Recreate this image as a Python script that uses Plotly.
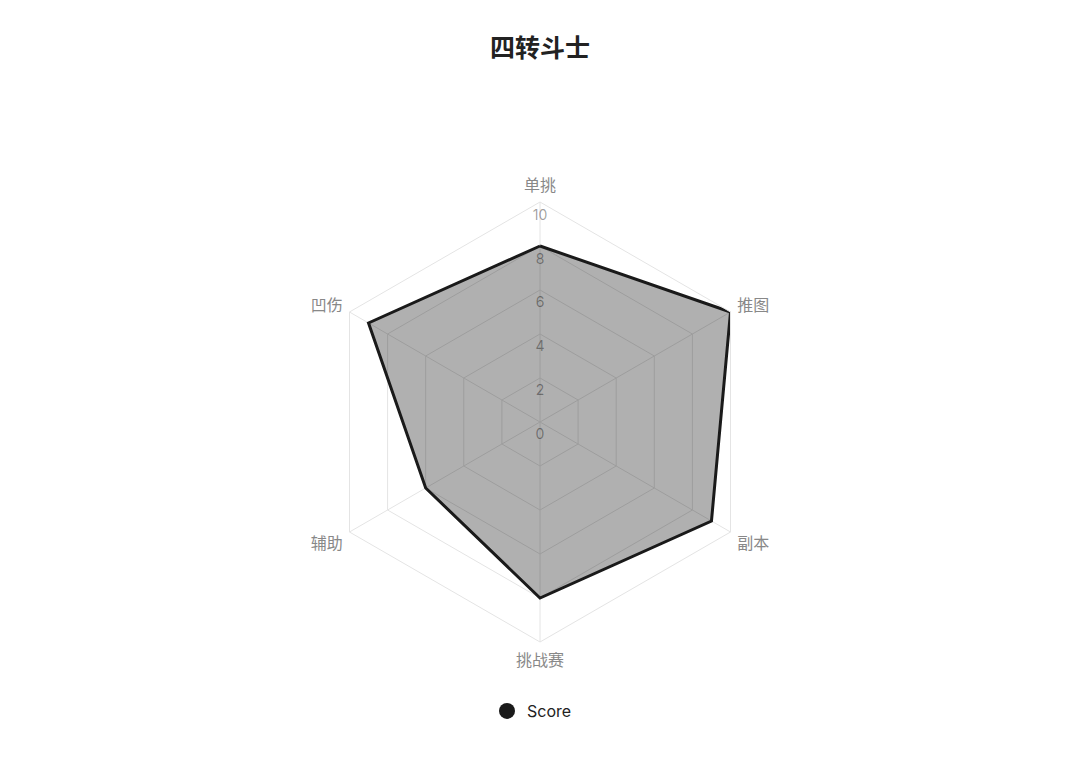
import plotly.graph_objects as go

title = "四转斗士"
categories = ["单挑", "推图", "副本", "挑战赛", "辅助", "凹伤"]
scores = [8, 10, 9, 8, 6, 9]
series_name = "Score"
tick_values = [0, 2, 4, 6, 8, 10]
tick_labels = ["0", "2", "4", "6", "8", "10"]

FONT = "Inter, 'Noto Sans CJK SC', sans-serif"
W, H = 1080, 779
OFF = 8  # page body margin
cx, cy, R = 540 - OFF, 422 - OFF, 220
LABEL_DROP = 14


def dom(cx_, cy_):
    return dict(x=[(cx_ - R) / W, (cx_ + R) / W],
                y=[(H - cy_ - R) / H, (H - cy_ + R) / H])


fig = go.Figure()

theta_closed = categories + [categories[0]]
r_closed = scores + [scores[0]]

fig.add_trace(go.Scatterpolar(
    r=r_closed, theta=theta_closed, mode="lines", fill="toself",
    fillcolor="rgba(0,0,0,0.31)",
    line=dict(color="#1a1a1a", width=3),
    showlegend=False, hoverinfo="skip", subplot="polar",
))

# radial tick labels along the first spoke (in an overlay polar, nudged down)
fig.add_trace(go.Scatterpolar(
    r=tick_values, theta=[categories[0]] * len(tick_values),
    mode="text", text=tick_labels, textposition="middle center",
    textfont=dict(family=FONT, size=14, color="rgba(0,0,0,0.38)"),
    showlegend=False, hoverinfo="skip", subplot="polar2",
))

# legend entry
fig.add_trace(go.Scatterpolar(
    r=[None], theta=[categories[0]], mode="markers", name=series_name,
    marker=dict(color="#1a1a1a", size=17, symbol="circle"),
    subplot="polar",
))

common_radial = dict(tickvals=tick_values, showticklabels=False,
                     ticks="", showline=False, angle=90)

fig.update_layout(
    width=W, height=H,
    paper_bgcolor="white", plot_bgcolor="white",
    margin=dict(l=0, r=0, t=0, b=0),
    title=dict(text="<b>" + title + "</b>", x=(540 - OFF) / W, xanchor="center",
               y=1 - (48 - OFF) / H, yanchor="middle",
               font=dict(family=FONT, size=25, color="#222")),
    font=dict(family=FONT),
    polar=dict(
        domain=dom(cx, cy),
        bgcolor="rgba(0,0,0,0)",
        gridshape="linear",
        radialaxis=dict(range=[0, 10], **common_radial, gridcolor="#e4e4e4", gridwidth=1),
        angularaxis=dict(rotation=90, direction="clockwise",
                         categoryorder="array", categoryarray=categories,
                         gridcolor="#e4e4e4", linecolor="#e4e4e4", linewidth=1,
                         ticks="outside", ticklen=4, tickcolor="rgba(0,0,0,0)",
                         tickfont=dict(family=FONT, size=16, color="#888")),
    ),
    polar2=dict(
        domain=dom(cx, cy + LABEL_DROP),
        bgcolor="rgba(0,0,0,0)",
        radialaxis=dict(range=[-0.001, 10], **common_radial, showgrid=False),
        angularaxis=dict(rotation=90, direction="clockwise",
                         categoryorder="array", categoryarray=categories,
                         showgrid=False, showline=False, showticklabels=False, ticks=""),
    ),
    showlegend=True,
    legend=dict(orientation="h", x=(536 - OFF - 4) / W, xanchor="center",
                y=1 - (711 - OFF) / H, yanchor="middle",
                font=dict(family=FONT, size=16, color="#222"),
                itemsizing="trace", itemwidth=30),
)

fig.write_html("out.html")
